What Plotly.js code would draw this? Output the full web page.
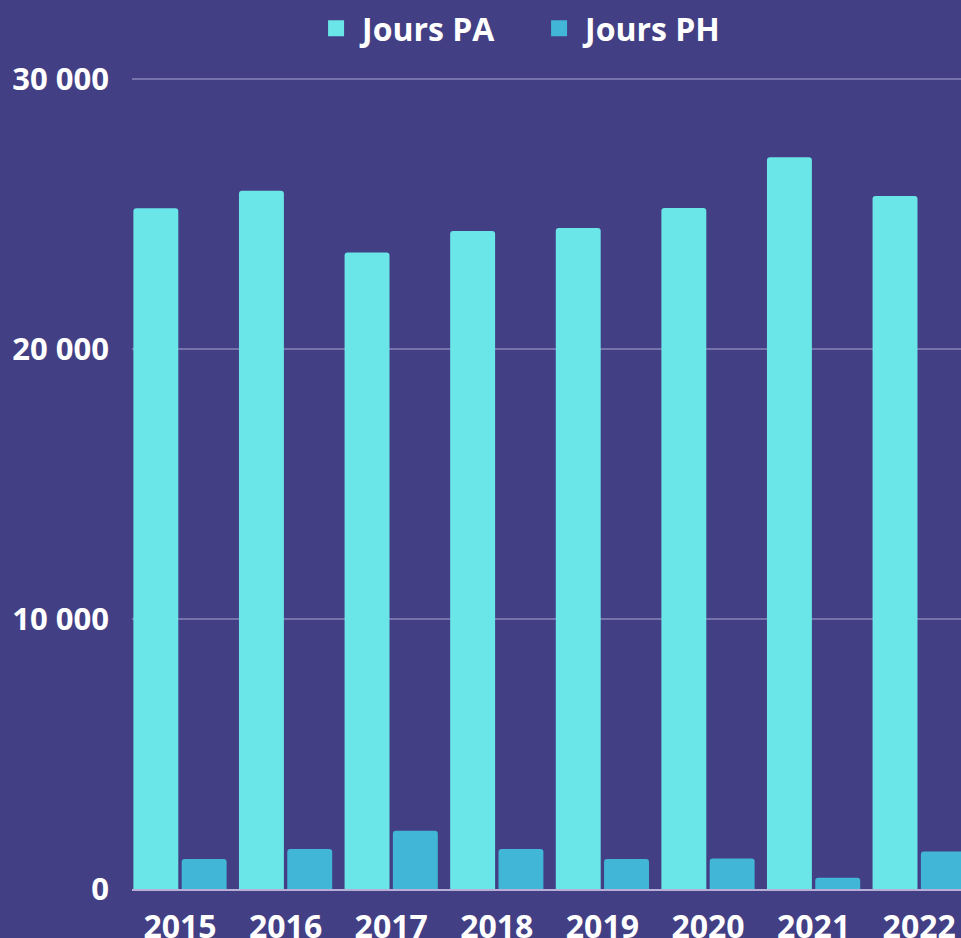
<!DOCTYPE html>
<html>
<head>
<meta charset="utf-8">
<script src="https://cdn.plot.ly/plotly-3.0.1.min.js"></script>
<style>
html,body{margin:0;padding:0;background:#433F85;overflow:hidden;}
#chart{width:961px;height:938px;}
</style>
</head>
<body>
<div id="chart"></div>
<script>
const years = ['2015','2016','2017','2018','2019','2020','2021','2022'];
const joursPA = [25210, 25860, 23570, 24370, 24480, 25220, 27100, 25670];
const joursPH = [1110, 1480, 2160, 1480, 1110, 1130, 420, 1390];
const seriesNames = ['Jours PA', 'Jours PH'];
const yTicks = [0, 10000, 20000, 30000];

const colPA = '#6AE5E8';
const colPH = '#41B6D6';
const bg = '#433F85';

const traces = [
  {type:'bar', x:years, y:joursPA, name:seriesNames[0], showlegend:false,
   marker:{color:colPA, cornerradius:3, line:{width:0}}, hoverinfo:'x+y'},
  {type:'bar', x:years, y:joursPH, name:seriesNames[1], showlegend:false,
   marker:{color:colPH, cornerradius:3, line:{width:0}}, hoverinfo:'x+y'},
  {type:'scatter', mode:'markers', x:[null], y:[null], name:seriesNames[0],
   marker:{symbol:'square', size:16, color:colPA}},
  {type:'scatter', mode:'markers', x:[null], y:[null], name:seriesNames[1],
   marker:{symbol:'square', size:16, color:colPH}}
];

const layout = {
  width:961, height:938,
  paper_bgcolor:bg, plot_bgcolor:bg,
  margin:{l:132, r:0, t:74, b:49, pad:0},
  separators:', ',
  font:{family:'"Open Sans", sans-serif', color:'#FFFFFF', weight:700},
  barmode:'group', bargap:0.085, bargroupgap:0.07,
  showlegend:true,
  legend:{orientation:'h', x:0.2148, xanchor:'left', y:1.056, yanchor:'middle',
          font:{size:32, color:'#FFFFFF', weight:700}, bgcolor:'rgba(0,0,0,0)',
          itemwidth:42, entrywidth:166, traceorder:'normal'},
  xaxis:{type:'category', range:[-0.4545, 7.396], showgrid:false, zeroline:false,
         showline:true, linecolor:'#B8AED8', linewidth:2,
         ticks:'', ticklabelstandoff:9,
         tickfont:{size:32, color:'#FFFFFF', weight:700}, fixedrange:true},
  yaxis:{range:[0, 30185], tickvals:yTicks, tickformat:',', showgrid:true,
         gridcolor:'#7672AC', gridwidth:2, zeroline:false, showline:false,
         ticks:'', ticklabelstandoff:22,
         tickfont:{size:31, color:'#FFFFFF', weight:700}, fixedrange:true}
};

Plotly.newPlot('chart', traces, layout, {displayModeBar:false, staticPlot:true});
</script>
</body>
</html>
